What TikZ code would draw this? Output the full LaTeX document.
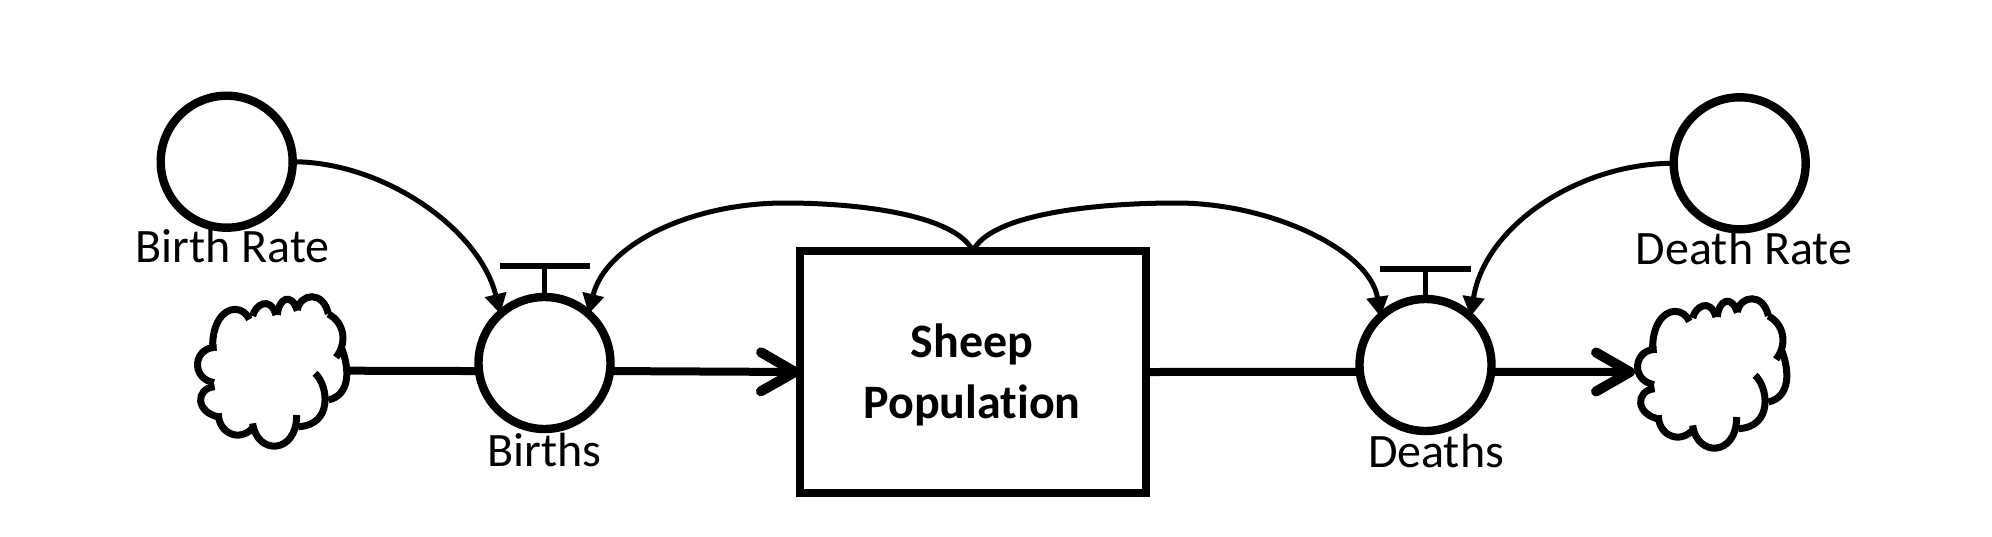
\documentclass[tikz,border=0pt]{standalone}
\usepackage{fontspec}
\setmainfont[Ligatures=NoCommon]{Carlito}
\usetikzlibrary{arrows.meta}
\tikzset{
  stockbox/.style={draw,line width=4.2pt,rectangle,minimum width=173pt,minimum height=121pt,inner sep=0pt,outer sep=0pt},
  roundnode/.style={draw,line width=4.2pt,circle,minimum size=66pt,inner sep=0pt,outer sep=0pt},
  lbl/.style={font=\fontsize{24}{26}\selectfont,anchor=base,inner sep=0pt},
  poptext/.style={font=\fontsize{24}{30.5}\selectfont\bfseries,align=center,inner sep=0pt},
  flowline/.style={line width=4pt},
  flowarrow/.style={line width=4pt,-{Straight Barb[length=17pt,width=19.5pt,line width=5pt,round]}},
  infoarrow/.style={line width=2.5pt,-{Triangle[length=10pt,width=10.5pt]}},
  stem/.style={line width=2.8pt},
  bar/.style={line width=3.2pt},
  cloudline/.style={line width=3.5pt,line cap=butt}
}
\newcommand{\sheepcloud}[2]{%
\begin{scope}[shift={(#1,#2)},x=0.16667pt,y=-0.16667pt,cloudline]
\draw (278,868) .. controls (275,790) and (310,748) .. (345,748) .. controls (365,748) and (380,760) .. (388,778);
\draw (398,768) .. controls (405,735) and (450,705) .. (468,765);
\draw (472,765) .. controls (475,715) and (515,695) .. (532,752);
\draw (532,750) .. controls (540,700) and (610,690) .. (625,762);
\draw (625,762) .. controls (670,785) and (685,845) .. (648,892);
\draw (665,865) .. controls (690,930) and (690,1005) .. (625,1020);
\draw (585,940) .. controls (625,975) and (640,1095) .. (535,1100);
\draw (530,1065) .. controls (530,1185) and (410,1185) .. (398,1090);
\draw (402,1100) .. controls (360,1150) and (295,1120) .. (295,1060);
\draw (302,1072) .. controls (225,1060) and (225,985) .. (284,980);
\draw (282,968) .. controls (210,955) and (220,860) .. (290,862);
\end{scope}}
\begin{document}
\begin{tikzpicture}[x=0.5pt,y=-0.5pt]
\useasboundingbox (0,0) rectangle (1992,536);
\node[stockbox] (pop) at (973,372) {};
\node[poptext] (poplabel) at (972,375) {Sheep\\Population};
\node[roundnode] (birthrate) at (226.7,161.7) {};
\node[roundnode] (births) at (544.5,363) {};
\node[roundnode] (deaths) at (1425.5,365) {};
\node[roundnode] (deathrate) at (1739.7,163.3) {};
\node[lbl] (lbr) at (232.5,262) {Birth Rate};
\node[lbl] (lb) at (544.5,466) {Births};
\node[lbl] (ldr) at (1744,264) {Death Rate};
\node[lbl] (ld) at (1436,467) {Deaths};
\sheepcloud{120}{60}
\sheepcloud{1560}{62}
\coordinate (srcedge) at (348,370.7);
\coordinate (sinkedge) at (1635,372);
\coordinate (bbarL) at (500,266);
\coordinate (bbarR) at (590,266);
\coordinate (bbarM) at (544.5,266);
\coordinate (dbarL) at (1380,268.7);
\coordinate (dbarR) at (1471,268.7);
\coordinate (dbarM) at (1425.5,268.7);
\draw[bar] (bbarL) -- (bbarR);
\draw[bar] (dbarL) -- (dbarR);
\draw[stem] (births.north) -- (bbarM);
\draw[stem] (deaths.north) -- (dbarM);
\draw[flowline] (srcedge) -- (births.187);
\draw[flowarrow] (births.-7) -- (pop.west);
\draw[flowline] (pop.east) -- (deaths.186);
\draw[flowarrow] (deaths.-6) -- (sinkedge);
\draw[infoarrow] (birthrate.east) .. controls (385,162) and (480,230) .. (births.132);
\draw[infoarrow] (deathrate.west) .. controls (1580,163) and (1485,225) .. (deaths.47);
\draw[infoarrow] (pop.north) .. controls (955,215) and (860,203) .. (785,203) .. controls (690,203) and (605,245) .. (births.48);
\draw[infoarrow] (pop.north) .. controls (990,215) and (1090,203) .. (1177,203) .. controls (1270,203) and (1370,250) .. (deaths.133);
\end{tikzpicture}
\end{document}
